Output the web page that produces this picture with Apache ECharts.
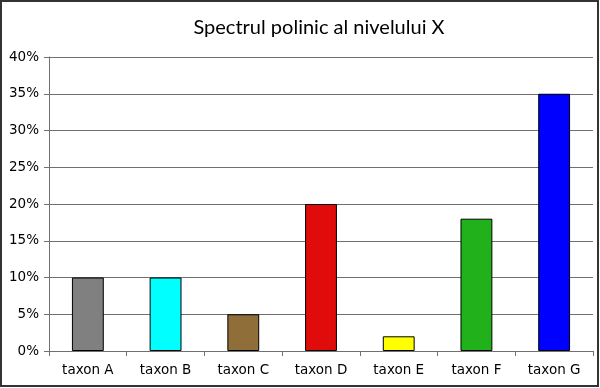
<!DOCTYPE html>
<html><head><meta charset="utf-8">
<script src="https://cdn.jsdelivr.net/npm/echarts@6/dist/echarts.min.js"></script>
<style>html,body{margin:0;padding:0;background:#fff}#c{width:600px;height:388px}</style>
</head><body><div id="c"></div>
<script>
var categories = ['taxon A','taxon B','taxon C','taxon D','taxon E','taxon F','taxon G'];
var values = [10, 10, 5, 20, 2, 18, 35];
var barColors = ['#808080','#00ffff','#8f6e3a','#e00b0b','#ffff00','#21b21b','#0000ff'];
var titleText = 'Spectrul polinic al nivelului X';

var chart = echarts.init(document.getElementById('c'), null, {renderer:'canvas'});
chart.setOption({
  animation:false,
  backgroundColor:'#fff',
  title:{text:titleText,left:314,textAlign:'center',top:13,
    textStyle:{fontFamily:'Lato, "Noto Sans", sans-serif',fontSize:20,fontWeight:'normal',color:'#000'}},
  graphic:[{type:'rect',shape:{x:1,y:1,width:597,height:385},style:{fill:'none',stroke:'#333',lineWidth:2},silent:true}],
  grid:{left:49,right:7,top:57,bottom:37},
  xAxis:{type:'category',data:categories,
    axisLine:{lineStyle:{color:'#707070',width:1}},
    axisTick:{show:true,length:5,inside:false,lineStyle:{color:'#707070'}},
    axisLabel:{color:'#000',fontSize:13.5,fontFamily:'"DejaVu Sans", sans-serif',margin:12}},
  yAxis:{type:'value',min:0,max:40,interval:5,
    axisLine:{show:true,lineStyle:{color:'#707070',width:1}},
    axisTick:{show:true,length:5,lineStyle:{color:'#707070'}},
    splitLine:{lineStyle:{color:'#707070',width:1}},
    axisLabel:{formatter:'{value}%',color:'#000',fontSize:13.5,fontFamily:'"DejaVu Sans", sans-serif',margin:10}},
  series:[{type:'bar',barWidth:'41%',
    data:values.map(function(v,i){return {value:v,itemStyle:{color:barColors[i]}};}),
    itemStyle:{borderColor:'#000',borderWidth:1}}]
});
</script></body></html>
